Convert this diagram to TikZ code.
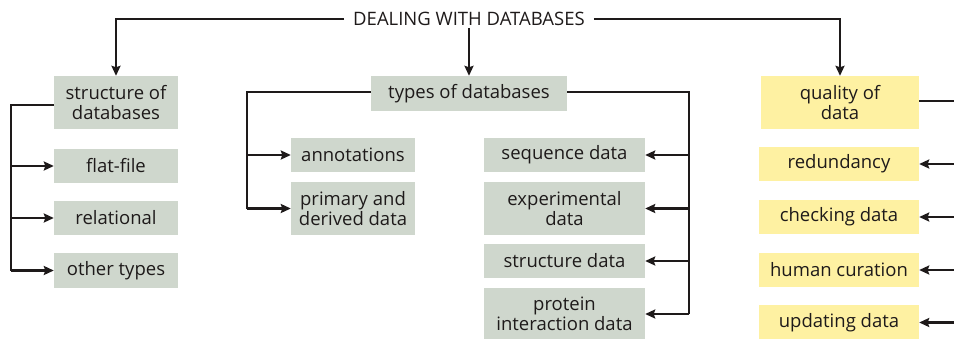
\documentclass[tikz,border=0pt]{standalone}
\usepackage{fontspec}
\setmainfont{Open Sans}
\usetikzlibrary{arrows.meta}
\definecolor{boxgray}{HTML}{CFD7CD}
\definecolor{boxyellow}{HTML}{FEF1A2}
\definecolor{ink}{HTML}{1E1A1A}
\begin{document}
\begin{tikzpicture}[x=1pt,y=-1pt,
  gbox/.style={fill=boxgray,text=ink,inner sep=0pt,align=center,font=\fontsize{18.5}{20.5}\selectfont},
  ybox/.style={fill=boxyellow,text=ink,inner sep=0pt,align=center,font=\fontsize{18.5}{20.5}\selectfont},
  conn/.style={draw=ink,line width=2.5pt},
  arr/.style={draw=ink,line width=2.5pt,-{Stealth[length=10pt,width=9pt,inset=1.5pt]}}]
\useasboundingbox (0,0) rectangle (954,338);
% title
\node[text=ink,font=\fontsize{18.5}{20}\selectfont,inner xsep=9pt,inner ysep=2pt] (title) at (469,19) {DEALING WITH DATABASES};
% structure column
\node[gbox,minimum width=124pt,minimum height=53pt] (struct) at (116,102.5) {structure of\\databases};
\node[gbox,minimum width=124pt,minimum height=34pt] (flat) at (116,166) {flat-file};
\node[gbox,minimum width=124pt,minimum height=34pt] (rel) at (116,218) {relational};
\node[gbox,minimum width=124pt,minimum height=35pt] (other) at (116,270.5) {other types};
% types column
\node[gbox,minimum width=196pt,minimum height=35pt] (types) at (469,93.5) {types of databases};
\node[gbox,minimum width=124pt,minimum height=34pt] (annot) at (353,155) {annotations};
\node[gbox,minimum width=124pt,minimum height=53pt] (prim) at (353,208.5) {primary and\\derived data};
\node[gbox,minimum width=161pt,minimum height=34pt] (seq) at (564.5,155) {sequence data};
\node[gbox,minimum width=161pt,minimum height=53pt] (exp) at (564.5,208.5) {experimental\\data};
\node[gbox,minimum width=161pt,minimum height=34pt] (strd) at (564.5,261) {structure data};
\node[gbox,minimum width=161pt,minimum height=53pt] (prot) at (564.5,314) {protein\\interaction data};
% quality column
\node[ybox,minimum width=158pt,minimum height=53pt] (qual) at (840,102.5) {quality of\\data};
\node[ybox,minimum width=160pt,minimum height=34pt] (red) at (839,164) {redundancy};
\node[ybox,minimum width=160pt,minimum height=34pt] (check) at (839,217) {checking data};
\node[ybox,minimum width=160pt,minimum height=34pt] (human) at (839,270) {human curation};
\node[ybox,minimum width=160pt,minimum height=35pt] (upd) at (839,322.5) {updating data};
% top connectors
\draw[arr] (title.west) -| (struct.north);
\draw[arr] (title.south) -- (types.north);
\draw[arr] (title.east) -| (qual.north);
% structure connectors
\coordinate (sl) at (11,105);
\draw[conn] (struct.west |- sl) -- (sl) -- (sl |- other.west);
\draw[arr] (sl |- flat.west) -- (flat.west);
\draw[arr] (sl |- rel.west) -- (rel.west);
\draw[arr] (sl |- other.west) -- (other.west);
% types connectors
\coordinate (tl) at (247,92);
\coordinate (tr) at (689,92);
\draw[conn] (types.west |- tl) -- (tl) -- (tl |- prim.west);
\draw[arr] (tl |- annot.west) -- (annot.west);
\draw[arr] (tl |- prim.west) -- (prim.west);
\draw[conn] (types.east |- tr) -- (tr) -- (tr |- prot.east);
\draw[arr] (tr |- seq.east) -- (seq.east);
\draw[arr] (tr |- exp.east) -- (exp.east);
\draw[arr] (tr |- strd.east) -- (strd.east);
\draw[arr] (tr |- prot.east) -- (prot.east);
% quality connectors
\coordinate (qr) at (962,101);
\draw[conn] (qual.east |- qr) -- (qr) -- (qr |- upd.east);
\draw[arr] (qr |- red.east) -- (red.east);
\draw[arr] (qr |- check.east) -- (check.east);
\draw[arr] (qr |- human.east) -- (human.east);
\draw[arr] (qr |- upd.east) -- (upd.east);
\end{tikzpicture}
\end{document}
